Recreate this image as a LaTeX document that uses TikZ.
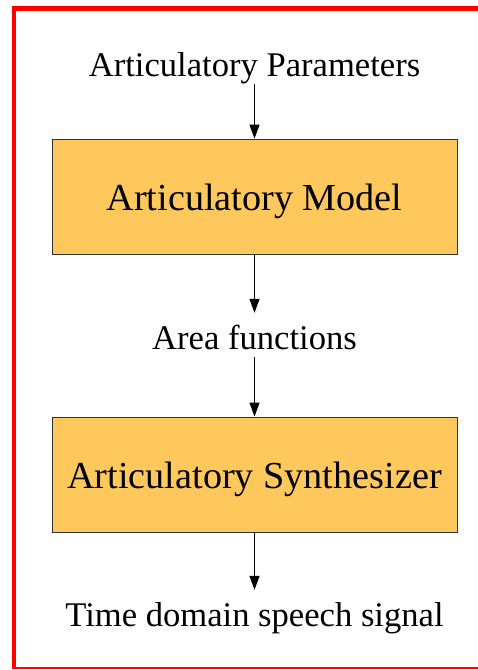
\documentclass[tikz,border=0pt]{standalone}
\usepackage{fontspec}
\setmainfont{Liberation Serif}
\usetikzlibrary{positioning}
\usetikzlibrary{arrows.meta}

\definecolor{boxfill}{RGB}{255,200,92}

\begin{document}
\begin{tikzpicture}[x=1pt, y=1pt,
    block/.style={draw=black!80, line width=0.9pt, fill=boxfill, minimum width=405pt, minimum height=115pt, text height=28pt, text depth=0pt, font=\fontsize{38.2}{40}\selectfont},
    label/.style={inner sep=0pt, text height=36pt, text depth=8pt, anchor=base, font=\fontsize{34.6}{36}\selectfont},
    flow/.style={-{Triangle[length=14pt, width=10pt]}, line width=1.2pt}]

    \pgfmathsetmacro{\midx}{254.5}

    \useasboundingbox (0, 0) rectangle (478, -670);

    % Draw frame
    \draw[red, line width=5pt] (12, -8.5) -- (478, -8.5);
    \draw[red, line width=4pt] (14, -6) -- (14, -668);
    \draw[red, line width=1.5pt] (12, -668) -- (478, -668);

    % Draw blocks
    \node[block] (model) at (\midx, -196.5) {Articulatory Model};
    \node[block] (synth) at (\midx, -474.5) {Articulatory Synthesizer};

    % Draw labels
    \node[label] (params) at (\midx, -76) {Articulatory Parameters};
    \node[label] (area) at (\midx, -349) {Area functions};
    \node[label] (signal) at (\midx, -626) {Time domain speech signal};

    % Draw arrows
    \draw[flow] (params.south) -- (model.north);
    \draw[flow] (model.south) -- (area.north);
    \draw[flow] (area.south) -- (synth.north);
    \draw[flow] (synth.south) -- (signal.north);

\end{tikzpicture}
\end{document}
